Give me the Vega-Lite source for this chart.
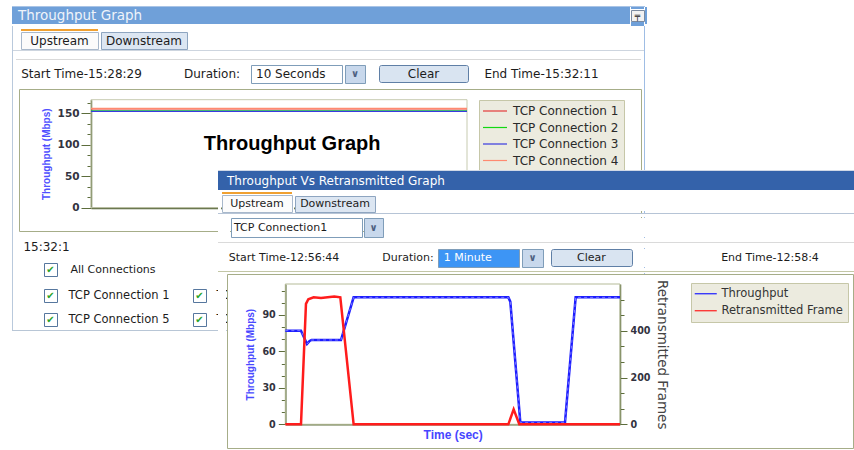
{
  "$schema": "https://vega.github.io/schema/vega-lite/v6.json",
  "background": "white",
  "padding": {"left": 12, "top": 6, "right": 0, "bottom": 0},
  "config": {
    "font": "DejaVu Sans",
    "view": {"stroke": null},
    "concat": {"spacing": 0},
    "text": {"font": "DejaVu Sans", "fontSize": 12, "color": "#1c1c1c"},
    "axis": {"grid": false, "zindex": 1, "domainColor": "#5d6d3c", "tickColor": "#5d6d3c", "labelFont": "DejaVu Sans", "labelFontWeight": "bold", "labelColor": "#333340"}
  },
  "datasets": {
    "w1": [
      {"conn": "TCP Connection 1", "t": 0, "v": 156.8}, {"conn": "TCP Connection 1", "t": 2, "v": 156.8}, {"conn": "TCP Connection 1", "t": 4, "v": 156.8}, {"conn": "TCP Connection 1", "t": 6, "v": 156.8}, {"conn": "TCP Connection 1", "t": 8, "v": 156.8}, {"conn": "TCP Connection 1", "t": 10, "v": 156.8},
      {"conn": "TCP Connection 2", "t": 0, "v": 153.6}, {"conn": "TCP Connection 2", "t": 2, "v": 153.6}, {"conn": "TCP Connection 2", "t": 4, "v": 153.6}, {"conn": "TCP Connection 2", "t": 6, "v": 153.6}, {"conn": "TCP Connection 2", "t": 8, "v": 153.6}, {"conn": "TCP Connection 2", "t": 10, "v": 153.6},
      {"conn": "TCP Connection 3", "t": 0, "v": 153.0}, {"conn": "TCP Connection 3", "t": 2, "v": 153.0}, {"conn": "TCP Connection 3", "t": 4, "v": 153.0}, {"conn": "TCP Connection 3", "t": 6, "v": 153.0}, {"conn": "TCP Connection 3", "t": 8, "v": 153.0}, {"conn": "TCP Connection 3", "t": 10, "v": 153.0},
      {"conn": "TCP Connection 4", "t": 0, "v": 157.4}, {"conn": "TCP Connection 4", "t": 2, "v": 157.4}, {"conn": "TCP Connection 4", "t": 4, "v": 157.4}, {"conn": "TCP Connection 4", "t": 6, "v": 157.4}, {"conn": "TCP Connection 4", "t": 8, "v": 157.4}, {"conn": "TCP Connection 4", "t": 10, "v": 157.4}
    ],
    "tp": [
      {"series": "Throughput", "t": 0, "v": 77.1}, {"series": "Throughput", "t": 3.75, "v": 77.1}, {"series": "Throughput", "t": 4.38, "v": 72.2}, {"series": "Throughput", "t": 5.18, "v": 66.1}, {"series": "Throughput", "t": 5.82, "v": 68.6}, {"series": "Throughput", "t": 6.29, "v": 69.4}, {"series": "Throughput", "t": 13.31, "v": 69.4}, {"series": "Throughput", "t": 16.33, "v": 104.5}, {"series": "Throughput", "t": 53.31, "v": 104.5}, {"series": "Throughput", "t": 53.78, "v": 101}, {"series": "Throughput", "t": 56.18, "v": 1.4}, {"series": "Throughput", "t": 66.85, "v": 1.4}, {"series": "Throughput", "t": 69.4, "v": 104.5}, {"series": "Throughput", "t": 80, "v": 104.5}
    ],
    "rf": [
      {"series": "Retransmitted Frame", "t": 0, "f": 0}, {"series": "Retransmitted Frame", "t": 3.75, "f": 0}, {"series": "Retransmitted Frame", "t": 4.94, "f": 515}, {"series": "Retransmitted Frame", "t": 5.5, "f": 535}, {"series": "Retransmitted Frame", "t": 6.77, "f": 543}, {"series": "Retransmitted Frame", "t": 8.53, "f": 540}, {"series": "Retransmitted Frame", "t": 10.12, "f": 543}, {"series": "Retransmitted Frame", "t": 11.71, "f": 546}, {"series": "Retransmitted Frame", "t": 13.15, "f": 543}, {"series": "Retransmitted Frame", "t": 16.33, "f": 0}, {"series": "Retransmitted Frame", "t": 53.31, "f": 0}, {"series": "Retransmitted Frame", "t": 54.58, "f": 64}, {"series": "Retransmitted Frame", "t": 55.93, "f": 0}, {"series": "Retransmitted Frame", "t": 80, "f": 0}
    ]
  },
  "hconcat": [
    {
      "vconcat": [
        {"width": 633, "height": 1, "view": {"fill": "#a9c4e6"}, "data": {"values": []}, "mark": "point"},
        {"hconcat": [
          {"width": 618, "height": 17, "view": {"fill": "#6fa0d9"}, "data": {"values": [{"t": "Throughput Graph"}]}, "mark": {"type": "text", "align": "left", "dx": -303, "fontSize": 13.5, "color": "#eef3fa"}, "encoding": {"text": {"field": "t", "type": "nominal"}}},
          {"vconcat": [
            {"width": 13, "height": 2, "view": {"fill": "#6fa0d9"}, "data": {"values": []}, "mark": "point"},
            {"width": 13, "height": 11, "view": {"fill": "#f2f2f2", "stroke": "#7a8aa0"}, "data": {"values": [{"t": "╤"}]}, "mark": {"type": "text", "fontSize": 9, "fontWeight": "bold", "color": "#222222"}, "encoding": {"text": {"field": "t", "type": "nominal"}}},
            {"width": 13, "height": 4, "view": {"fill": "#6fa0d9"}, "data": {"values": []}, "mark": "point"}
          ]},
          {"width": 2, "height": 17, "view": {"fill": "#6fa0d9"}, "data": {"values": []}, "mark": "point"}
        ]},
        {"hconcat": [
          {"width": 1, "height": 304, "view": {"fill": "#b9c9dc"}, "data": {"values": []}, "mark": "point"},
          {"vconcat": [
            {"width": 1, "height": 3, "data": {"values": []}, "mark": "point"},
            {"hconcat": [
              {"width": 7, "height": 19, "data": {"values": []}, "mark": "point"},
              {"vconcat": [
                {"width": 77, "height": 2, "view": {"fill": "#f0a030"}, "data": {"values": []}, "mark": "point"},
                {"width": 77, "height": 17, "view": {"fill": "#fbfbfb", "stroke": "#a8b8cb"}, "data": {"values": [{"t": "Upstream"}]}, "mark": {"type": "text", "fontSize": 12}, "encoding": {"text": {"field": "t", "type": "nominal"}}}
              ]},
              {"width": 1, "height": 19, "data": {"values": []}, "mark": "point"},
              {"vconcat": [
                {"width": 86, "height": 2, "data": {"values": []}, "mark": "point"},
                {"width": 86, "height": 17, "view": {"fill": "#dce6f2", "stroke": "#8ea5c0"}, "data": {"values": [{"t": "Downstream"}]}, "mark": {"type": "text", "fontSize": 12}, "encoding": {"text": {"field": "t", "type": "nominal"}}}
              ]}
            ]},
            {"width": 631, "height": 1, "view": {"fill": "#cdd5df"}, "data": {"values": []}, "mark": "point"},
            {"width": 1, "height": 8, "data": {"values": []}, "mark": "point"},
            {"hconcat": [
              {"width": 3, "height": 1, "data": {"values": []}, "mark": "point"},
              {"width": 625, "height": 1, "view": {"fill": "#d9d9d9"}, "data": {"values": []}, "mark": "point"}
            ]},
            {"width": 1, "height": 4, "data": {"values": []}, "mark": "point"},
            {"hconcat": [
              {"width": 7, "height": 18, "data": {"values": []}, "mark": "point"},
              {"width": 123, "height": 18, "data": {"values": [{"t": "Start Time-15:28:29"}]}, "mark": {"type": "text", "fontSize": 12}, "encoding": {"text": {"field": "t", "type": "nominal"}}},
              {"width": 40, "height": 18, "data": {"values": []}, "mark": "point"},
              {"width": 58, "height": 18, "data": {"values": [{"t": "Duration:"}]}, "mark": {"type": "text", "fontSize": 12}, "encoding": {"text": {"field": "t", "type": "nominal"}}},
              {"width": 9, "height": 18, "data": {"values": []}, "mark": "point"},
              {"width": 91, "height": 18, "view": {"fill": "white", "stroke": "#7f9db9"}, "data": {"values": [{"t": "10 Seconds"}]}, "mark": {"type": "text", "fontSize": 12, "align": "left", "dx": -40.5}, "encoding": {"text": {"field": "t", "type": "nominal"}}},
              {"width": 1, "height": 18, "data": {"values": []}, "mark": "point"},
              {"width": 20, "height": 18, "view": {"fill": "#c8d8ec", "stroke": "#7f9db9"}, "data": {"values": [{"t": "∨"}]}, "mark": {"type": "text", "fontSize": 10, "fontWeight": "bold", "color": "#4d5f80"}, "encoding": {"text": {"field": "t", "type": "nominal"}}},
              {"width": 12, "height": 18, "data": {"values": []}, "mark": "point"},
              {"width": 89, "height": 17, "view": {"fill": "#d9e4f1", "stroke": "#5f7fa6", "cornerRadius": 2}, "data": {"values": [{"t": "Clear"}]}, "mark": {"type": "text", "fontSize": 12}, "encoding": {"text": {"field": "t", "type": "nominal"}}},
              {"width": 14, "height": 18, "data": {"values": []}, "mark": "point"},
              {"width": 117, "height": 18, "data": {"values": [{"t": "End Time-15:32:11"}]}, "mark": {"type": "text", "fontSize": 12}, "encoding": {"text": {"field": "t", "type": "nominal"}}}
            ]},
            {"width": 1, "height": 4, "data": {"values": []}, "mark": "point"},
            {"hconcat": [
              {"width": 5, "height": 142, "data": {"values": []}, "mark": "point"},
              {
                "width": 622, "height": 142,
                "view": {"fill": "white", "stroke": "#a6ad88"},
                "layer": [
                  {"data": {"values": [{"k": 1}]}, "mark": {"type": "rect", "filled": false, "stroke": "#c7cbb0", "strokeWidth": 1},
                   "encoding": {
                     "x": {"datum": 0, "type": "quantitative", "scale": {"domain": [0, 10], "range": [72, 448], "nice": false},
                           "axis": {"orient": "bottom", "offset": -23.3, "title": null, "labels": false, "ticks": false, "domainWidth": 2, "domainColor": "#56663a"}},
                     "x2": {"datum": 10},
                     "y": {"datum": 0, "type": "quantitative", "scale": {"domain": [0, 171.4], "range": [118.7, 10.7], "nice": false},
                           "axis": {"orient": "left", "offset": -72, "title": "Throughput (Mbps)",
                                    "values": [0, 16.6667, 33.3333, 50, 66.6667, 83.3333, 100, 116.6667, 133.3333, 150, 166.6667],
                                    "labelExpr": "abs(datum.value/50 - round(datum.value/50)) < 0.001 ? datum.label : ''",
                                    "tickSize": {"condition": {"test": "abs(datum.value/50 - round(datum.value/50)) < 0.001", "value": 10}, "value": 4},
                                    "labelFontSize": 10.5, "labelPadding": 2, "domainWidth": 1.5,
                                    "titleColor": "#5050ff", "titleFont": "Liberation Sans", "titleFontSize": 10, "titleFontWeight": "bold", "titlePadding": 6}},
                     "y2": {"datum": 171.4}
                   }},
                  {"data": {"name": "w1"}, "mark": {"type": "line", "strokeWidth": 1.3},
                   "encoding": {
                     "x": {"field": "t", "type": "quantitative", "scale": {"domain": [0, 10], "range": [72, 448], "nice": false},
                           "axis": {"orient": "bottom", "offset": -23.3, "title": null, "labels": false, "ticks": false, "domainWidth": 2, "domainColor": "#56663a"}},
                     "y": {"field": "v", "type": "quantitative", "scale": {"domain": [0, 171.4], "range": [118.7, 10.7], "nice": false},
                           "axis": {"orient": "left", "offset": -72, "title": "Throughput (Mbps)",
                                    "values": [0, 16.6667, 33.3333, 50, 66.6667, 83.3333, 100, 116.6667, 133.3333, 150, 166.6667],
                                    "labelExpr": "abs(datum.value/50 - round(datum.value/50)) < 0.001 ? datum.label : ''",
                                    "tickSize": {"condition": {"test": "abs(datum.value/50 - round(datum.value/50)) < 0.001", "value": 10}, "value": 4},
                                    "labelFontSize": 10.5, "labelPadding": 2, "domainWidth": 1.5,
                                    "titleColor": "#5050ff", "titleFont": "Liberation Sans", "titleFontSize": 10, "titleFontWeight": "bold", "titlePadding": 6}},
                     "color": {"field": "conn", "type": "nominal",
                               "scale": {"domain": ["TCP Connection 1", "TCP Connection 2", "TCP Connection 3", "TCP Connection 4"], "range": ["#e53a3a", "#12d812", "#3a3ae0", "#ff8a70"]},
                               "legend": {"orient": "none", "legendX": 460, "legendY": 11, "title": null, "fillColor": "#ecebdf", "strokeColor": "#c6c7a8", "padding": 5,
                                          "labelFontSize": 12, "labelColor": "#2a2a2a", "labelFont": "DejaVu Sans", "symbolType": "M-3,0H3", "symbolSize": 64, "symbolStrokeWidth": 1.2, "symbolOffset": 5, "rowPadding": 4.5, "labelOffset": 12}}
                   }},
                  {"data": {"values": [{"cap": "Throughput Graph"}]}, "mark": {"type": "text", "font": "Liberation Sans", "fontSize": 20, "fontWeight": "bold", "color": "#000000"},
                   "encoding": {
                     "x": {"datum": 5.35, "type": "quantitative", "scale": {"domain": [0, 10], "range": [72, 448], "nice": false},
                           "axis": {"orient": "bottom", "offset": -23.3, "title": null, "labels": false, "ticks": false, "domainWidth": 2, "domainColor": "#56663a"}},
                     "y": {"datum": 101, "type": "quantitative", "scale": {"domain": [0, 171.4], "range": [118.7, 10.7], "nice": false},
                           "axis": {"orient": "left", "offset": -72, "title": "Throughput (Mbps)",
                                    "values": [0, 16.6667, 33.3333, 50, 66.6667, 83.3333, 100, 116.6667, 133.3333, 150, 166.6667],
                                    "labelExpr": "abs(datum.value/50 - round(datum.value/50)) < 0.001 ? datum.label : ''",
                                    "tickSize": {"condition": {"test": "abs(datum.value/50 - round(datum.value/50)) < 0.001", "value": 10}, "value": 4},
                                    "labelFontSize": 10.5, "labelPadding": 2, "domainWidth": 1.5,
                                    "titleColor": "#5050ff", "titleFont": "Liberation Sans", "titleFontSize": 10, "titleFontWeight": "bold", "titlePadding": 6}},
                     "text": {"field": "cap", "type": "nominal"}
                   }}
                ]
              }
            ], "resolve": {"scale": {"color": "independent"}, "legend": {"color": "independent"}}},
            {"width": 1, "height": 8, "data": {"values": []}, "mark": "point"},
            {"hconcat": [
              {"width": 9, "height": 14, "data": {"values": []}, "mark": "point"},
              {"width": 49, "height": 14, "data": {"values": [{"t": "15:32:1"}]}, "mark": {"type": "text", "fontSize": 12}, "encoding": {"text": {"field": "t", "type": "nominal"}}}
            ]},
            {"width": 1, "height": 8, "data": {"values": []}, "mark": "point"},
            {"hconcat": [
              {"width": 30, "height": 13, "data": {"values": []}, "mark": "point"},
              {"width": 13, "height": 13, "view": {"fill": "white", "stroke": "#56779e"}, "data": {"values": [{"t": "✔"}]}, "mark": {"type": "text", "fontSize": 10, "fontWeight": "bold", "color": "#29a329"}, "encoding": {"text": {"field": "t", "type": "nominal"}}},
              {"width": 6, "height": 13, "data": {"values": []}, "mark": "point"},
              {"width": 98, "height": 13, "data": {"values": [{"t": "All Connections"}]}, "mark": {"type": "text", "fontSize": 11}, "encoding": {"text": {"field": "t", "type": "nominal"}}}
            ]},
            {"width": 1, "height": 11, "data": {"values": []}, "mark": "point"},
            {"hconcat": [
              {"width": 30, "height": 13, "data": {"values": []}, "mark": "point"},
              {"width": 13, "height": 13, "view": {"fill": "white", "stroke": "#56779e"}, "data": {"values": [{"t": "✔"}]}, "mark": {"type": "text", "fontSize": 10, "fontWeight": "bold", "color": "#29a329"}, "encoding": {"text": {"field": "t", "type": "nominal"}}},
              {"width": 6, "height": 13, "data": {"values": []}, "mark": "point"},
              {"width": 110, "height": 13, "data": {"values": [{"t": "TCP Connection 1"}]}, "mark": {"type": "text", "fontSize": 11.5}, "encoding": {"text": {"field": "t", "type": "nominal"}}},
              {"width": 18, "height": 13, "data": {"values": []}, "mark": "point"},
              {"width": 13, "height": 13, "view": {"fill": "white", "stroke": "#56779e"}, "data": {"values": [{"t": "✔"}]}, "mark": {"type": "text", "fontSize": 10, "fontWeight": "bold", "color": "#29a329"}, "encoding": {"text": {"field": "t", "type": "nominal"}}},
              {"width": 5, "height": 13, "data": {"values": []}, "mark": "point"},
              {"width": 110, "height": 13, "data": {"values": [{"t": "TCP Connection 2"}]}, "mark": {"type": "text", "fontSize": 11.5}, "encoding": {"text": {"field": "t", "type": "nominal"}}}
            ]},
            {"width": 1, "height": 9, "data": {"values": []}, "mark": "point"},
            {"hconcat": [
              {"width": 30, "height": 13, "data": {"values": []}, "mark": "point"},
              {"width": 13, "height": 13, "view": {"fill": "white", "stroke": "#56779e"}, "data": {"values": [{"t": "✔"}]}, "mark": {"type": "text", "fontSize": 10, "fontWeight": "bold", "color": "#29a329"}, "encoding": {"text": {"field": "t", "type": "nominal"}}},
              {"width": 6, "height": 13, "data": {"values": []}, "mark": "point"},
              {"width": 110, "height": 13, "data": {"values": [{"t": "TCP Connection 5"}]}, "mark": {"type": "text", "fontSize": 11.5}, "encoding": {"text": {"field": "t", "type": "nominal"}}},
              {"width": 18, "height": 13, "data": {"values": []}, "mark": "point"},
              {"width": 13, "height": 13, "view": {"fill": "white", "stroke": "#56779e"}, "data": {"values": [{"t": "✔"}]}, "mark": {"type": "text", "fontSize": 10, "fontWeight": "bold", "color": "#29a329"}, "encoding": {"text": {"field": "t", "type": "nominal"}}},
              {"width": 5, "height": 13, "data": {"values": []}, "mark": "point"},
              {"width": 110, "height": 13, "data": {"values": [{"t": "TCP Connection 6"}]}, "mark": {"type": "text", "fontSize": 11.5}, "encoding": {"text": {"field": "t", "type": "nominal"}}}
            ]}
          ]},
          {"width": 1, "height": 304, "view": {"fill": "#9fbde4"}, "data": {"values": []}, "mark": "point"}
        ]},
        {"width": 633, "height": 1, "view": {"fill": "#b8c6d6"}, "data": {"values": []}, "mark": "point"}
      ]
    },
    {
      "vconcat": [
        {"width": 1, "height": 164, "data": {"values": []}, "mark": "point"},
        {"width": 636, "height": 1, "view": {"fill": "#d0d8e6"}, "data": {"values": []}, "mark": "point"},
        {"width": 636, "height": 19, "view": {"fill": "#3462aa"}, "data": {"values": [{"t": "Throughput Vs Retransmitted Graph"}]}, "mark": {"type": "text", "align": "left", "dx": -309, "fontSize": 12, "color": "#ffffff"}, "encoding": {"text": {"field": "t", "type": "nominal"}}},
        {"width": 636, "height": 2, "view": {"fill": "white"}, "data": {"values": []}, "mark": "point"},
        {"hconcat": [
          {"width": 3, "height": 19, "view": {"fill": "white"}, "data": {"values": []}, "mark": "point"},
          {"vconcat": [
            {"width": 70, "height": 2, "view": {"fill": "#f0a030"}, "data": {"values": []}, "mark": "point"},
            {"width": 70, "height": 17, "view": {"fill": "#fcfcfc", "stroke": "#a8b8cb"}, "data": {"values": [{"t": "Upstream"}]}, "mark": {"type": "text", "fontSize": 11}, "encoding": {"text": {"field": "t", "type": "nominal"}}}
          ]},
          {"width": 1, "height": 19, "view": {"fill": "white"}, "data": {"values": []}, "mark": "point"},
          {"vconcat": [
            {"width": 80, "height": 3, "view": {"fill": "white"}, "data": {"values": []}, "mark": "point"},
            {"width": 80, "height": 16, "view": {"fill": "#dce6f2", "stroke": "#8ea5c0"}, "data": {"values": [{"t": "Downstream"}]}, "mark": {"type": "text", "fontSize": 11}, "encoding": {"text": {"field": "t", "type": "nominal"}}}
          ]},
          {"width": 482, "height": 19, "view": {"fill": "white"}, "data": {"values": []}, "mark": "point"}
        ]},
        {"width": 636, "height": 1, "view": {"fill": "#b6c4d6"}, "data": {"values": []}, "mark": "point"},
        {"width": 636, "height": 3, "view": {"fill": "white"}, "data": {"values": []}, "mark": "point"},
        {"hconcat": [
          {"width": 12, "height": 19, "view": {"fill": "white"}, "data": {"values": []}, "mark": "point"},
          {"width": 131, "height": 19, "view": {"fill": "white", "stroke": "#7f9db9"}, "data": {"values": [{"t": "TCP Connection1"}]}, "mark": {"type": "text", "fontSize": 11, "align": "left", "dx": -62.5}, "encoding": {"text": {"field": "t", "type": "nominal"}}},
          {"width": 19, "height": 19, "view": {"fill": "#c8d8ec", "stroke": "#7f9db9"}, "data": {"values": [{"t": "∨"}]}, "mark": {"type": "text", "fontSize": 10, "fontWeight": "bold", "color": "#4d5f80"}, "encoding": {"text": {"field": "t", "type": "nominal"}}},
          {"width": 474, "height": 19, "view": {"fill": "white"}, "data": {"values": []}, "mark": "point"}
        ]},
        {"width": 636, "height": 4, "view": {"fill": "white"}, "data": {"values": []}, "mark": "point"},
        {"width": 636, "height": 1, "view": {"fill": "#dadada"}, "data": {"values": []}, "mark": "point"},
        {"width": 636, "height": 5, "view": {"fill": "white"}, "data": {"values": []}, "mark": "point"},
        {"hconcat": [
          {"width": 8, "height": 18, "view": {"fill": "white"}, "data": {"values": []}, "mark": "point"},
          {"width": 116, "height": 18, "view": {"fill": "white"}, "data": {"values": [{"t": "Start Time-12:56:44"}]}, "mark": {"type": "text", "fontSize": 11}, "encoding": {"text": {"field": "t", "type": "nominal"}}},
          {"width": 38, "height": 18, "view": {"fill": "white"}, "data": {"values": []}, "mark": "point"},
          {"width": 56, "height": 18, "view": {"fill": "white"}, "data": {"values": [{"t": "Duration:"}]}, "mark": {"type": "text", "fontSize": 11}, "encoding": {"text": {"field": "t", "type": "nominal"}}},
          {"width": 1, "height": 18, "view": {"fill": "white"}, "data": {"values": []}, "mark": "point"},
          {"width": 81, "height": 18, "view": {"fill": "#3d95f5", "stroke": "#7f9db9"}, "data": {"values": [{"t": "1 Minute"}]}, "mark": {"type": "text", "fontSize": 11, "align": "left", "dx": -34.8, "color": "#ffffff"}, "encoding": {"text": {"field": "t", "type": "nominal"}}},
          {"width": 1, "height": 18, "view": {"fill": "white"}, "data": {"values": []}, "mark": "point"},
          {"width": 21, "height": 18, "view": {"fill": "#c8d8ec", "stroke": "#7f9db9"}, "data": {"values": [{"t": "∨"}]}, "mark": {"type": "text", "fontSize": 10, "fontWeight": "bold", "color": "#4d5f80"}, "encoding": {"text": {"field": "t", "type": "nominal"}}},
          {"width": 6, "height": 18, "view": {"fill": "white"}, "data": {"values": []}, "mark": "point"},
          {"width": 81, "height": 17, "view": {"fill": "#d9e4f1", "stroke": "#5f7fa6", "cornerRadius": 2}, "data": {"values": [{"t": "Clear"}]}, "mark": {"type": "text", "fontSize": 11}, "encoding": {"text": {"field": "t", "type": "nominal"}}},
          {"width": 87, "height": 18, "view": {"fill": "white"}, "data": {"values": []}, "mark": "point"},
          {"width": 100, "height": 18, "view": {"fill": "white"}, "data": {"values": [{"t": "End Time-12:58:4"}]}, "mark": {"type": "text", "fontSize": 11}, "encoding": {"text": {"field": "t", "type": "nominal"}}},
          {"width": 40, "height": 18, "view": {"fill": "white"}, "data": {"values": []}, "mark": "point"}
        ]},
        {"width": 636, "height": 3, "view": {"fill": "white"}, "data": {"values": []}, "mark": "point"},
        {"width": 636, "height": 1, "view": {"fill": "#c3c7a6"}, "data": {"values": []}, "mark": "point"},
        {"width": 636, "height": 1, "view": {"fill": "white"}, "data": {"values": []}, "mark": "point"},
        {"hconcat": [
          {"width": 8, "height": 174, "view": {"fill": "white"}, "data": {"values": []}, "mark": "point"},
          {
            "width": 626, "height": 174,
            "view": {"fill": "white", "stroke": "#a6ad88"},
            "layer": [
              {"data": {"values": [{"k": 1}]}, "mark": {"type": "rect", "filled": false, "stroke": "#b5bb98", "strokeWidth": 1},
               "encoding": {
                 "x": {"datum": 0, "type": "quantitative", "scale": {"domain": [0, 80], "range": [58.3, 393], "nice": false},
                       "axis": {"orient": "bottom", "offset": -23.7, "title": "Time (sec)", "labels": false, "ticks": false, "domainWidth": 1.5,
                                "titleColor": "#4646ff", "titleFont": "Liberation Sans", "titleFontSize": 12, "titleFontWeight": "bold", "titlePadding": 5}},
                 "x2": {"datum": 80},
                 "y": {"datum": 0, "type": "quantitative", "scale": {"domain": [0, 115.5], "range": [150.3, 10], "nice": false}, "axis": null},
                 "y2": {"datum": 115.5}
               }},
              {"layer": [
                {"data": {"name": "tp"}, "mark": {"type": "line", "strokeWidth": 2.5},
                 "encoding": {
                   "x": {"field": "t", "type": "quantitative", "scale": {"domain": [0, 80], "range": [58.3, 393], "nice": false},
                         "axis": {"orient": "bottom", "offset": -23.7, "title": "Time (sec)", "labels": false, "ticks": false, "domainWidth": 1.5,
                                  "titleColor": "#4646ff", "titleFont": "Liberation Sans", "titleFontSize": 12, "titleFontWeight": "bold", "titlePadding": 5}},
                   "y": {"field": "v", "type": "quantitative", "scale": {"domain": [0, 115.5], "range": [150.3, 10], "nice": false},
                         "axis": {"orient": "left", "offset": -58.3, "title": "Throughput (Mbps)",
                                  "values": [0, 10, 20, 30, 40, 50, 60, 70, 80, 90, 100, 110],
                                  "labelExpr": "datum.value % 30 === 0 ? datum.label : ''",
                                  "tickSize": {"condition": {"test": "datum.value % 30 === 0", "value": 7}, "value": 4},
                                  "labelFontSize": 9.6, "labelPadding": 3, "domainWidth": 1.5,
                                  "titleColor": "#4a4aff", "titleFont": "Liberation Sans", "titleFontSize": 10, "titleFontWeight": "bold", "titlePadding": 6}},
                   "color": {"field": "series", "type": "nominal",
                             "scale": {"domain": ["Throughput", "Retransmitted Frame"], "range": ["#1c1cff", "#ff1c1c"]},
                             "legend": {"orient": "none", "legendX": 464, "legendY": 9, "title": null, "fillColor": "#ecebdf", "strokeColor": "#c6c7a8", "padding": 5,
                                        "labelFontSize": 11.5, "labelColor": "#333333", "labelFont": "DejaVu Sans", "symbolType": "M-3,0H3", "symbolSize": 54, "symbolStrokeWidth": 1.2, "symbolOffset": 4, "rowPadding": 4, "labelOffset": 10}}
                 }},
                {"data": {"name": "tp"}, "mark": {"type": "line", "strokeWidth": 0.8, "strokeDash": [3, 3], "color": "#9090ff"},
                 "encoding": {
                   "x": {"field": "t", "type": "quantitative", "scale": {"domain": [0, 80], "range": [58.3, 393], "nice": false},
                         "axis": {"orient": "bottom", "offset": -23.7, "title": "Time (sec)", "labels": false, "ticks": false, "domainWidth": 1.5,
                                  "titleColor": "#4646ff", "titleFont": "Liberation Sans", "titleFontSize": 12, "titleFontWeight": "bold", "titlePadding": 5}},
                   "y": {"field": "v", "type": "quantitative", "scale": {"domain": [0, 115.5], "range": [150.3, 10], "nice": false},
                         "axis": {"orient": "left", "offset": -58.3, "title": "Throughput (Mbps)",
                                  "values": [0, 10, 20, 30, 40, 50, 60, 70, 80, 90, 100, 110],
                                  "labelExpr": "datum.value % 30 === 0 ? datum.label : ''",
                                  "tickSize": {"condition": {"test": "datum.value % 30 === 0", "value": 7}, "value": 4},
                                  "labelFontSize": 9.6, "labelPadding": 3, "domainWidth": 1.5,
                                  "titleColor": "#4a4aff", "titleFont": "Liberation Sans", "titleFontSize": 10, "titleFontWeight": "bold", "titlePadding": 6}}
                 }}
              ]},
              {"data": {"name": "rf"}, "mark": {"type": "line", "strokeWidth": 2.5},
               "encoding": {
                 "x": {"field": "t", "type": "quantitative", "scale": {"domain": [0, 80], "range": [58.3, 393], "nice": false},
                       "axis": {"orient": "bottom", "offset": -23.7, "title": "Time (sec)", "labels": false, "ticks": false, "domainWidth": 1.5,
                                "titleColor": "#4646ff", "titleFont": "Liberation Sans", "titleFontSize": 12, "titleFontWeight": "bold", "titlePadding": 5}},
                 "y": {"field": "f", "type": "quantitative", "scale": {"domain": [0, 600], "range": [150.3, 10], "nice": false},
                       "axis": {"orient": "right", "offset": -233, "title": "Retransmitted Frames",
                                "values": [0, 66.6667, 133.3333, 200, 266.6667, 333.3333, 400, 466.6667, 533.3333],
                                "labelExpr": "datum.value % 200 === 0 ? datum.label : ''",
                                "tickSize": {"condition": {"test": "datum.value % 200 === 0", "value": 7}, "value": 4},
                                "labelFontSize": 9.6, "labelPadding": 3, "domainWidth": 1.5,
                                "titleColor": "#444444", "titleFont": "DejaVu Sans", "titleFontSize": 13.5, "titleFontWeight": "normal", "titlePadding": 4}},
                 "color": {"field": "series", "type": "nominal",
                           "scale": {"domain": ["Throughput", "Retransmitted Frame"], "range": ["#1c1cff", "#ff1c1c"]}}
               }}
            ],
            "resolve": {"scale": {"y": "independent"}, "axis": {"y": "independent"}}
          },
          {"width": 2, "height": 174, "view": {"fill": "white"}, "data": {"values": []}, "mark": "point"}
        ], "resolve": {"scale": {"color": "independent"}, "legend": {"color": "independent"}}},
        {"width": 636, "height": 4, "view": {"fill": "white"}, "data": {"values": []}, "mark": "point"}
      ]
    }
  ],
  "spacing": -429,
  "align": "none",
  "resolve": {"scale": {"color": "independent"}, "legend": {"color": "independent"}}
}
